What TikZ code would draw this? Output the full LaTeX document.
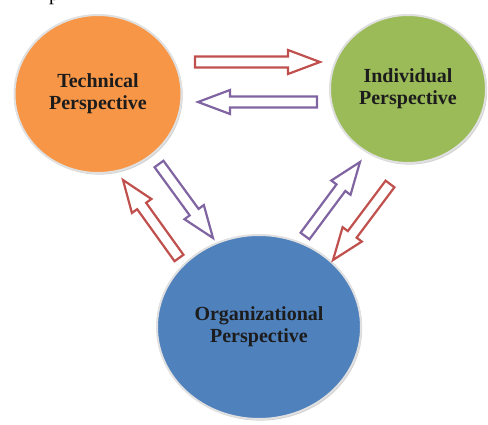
\documentclass[tikz,border=0pt]{standalone}
\usepackage{fontspec}
\setmainfont{Liberation Serif}
\usetikzlibrary{shapes.geometric, calc, shadows}

\definecolor{techorange}{HTML}{F79646}
\definecolor{indgreen}{HTML}{9BBB59}
\definecolor{orgblue}{HTML}{4F81BD}
\definecolor{flowred}{HTML}{C0504D}
\definecolor{flowpurple}{HTML}{8064A2}
\definecolor{labeltext}{HTML}{1C1C1C}

\tikzset{
  perspective/.style = {
    ellipse, draw = white!88!black, line width = 2pt, inner sep = 0pt,
    text = labeltext, align = center,
    font = \fontsize{20}{22}\selectfont\bfseries,
    drop shadow = {shadow xshift = 1.2pt, shadow yshift = -1.6pt,
      fill = black!40, opacity = 0.45}
  },
  blockarrow/.style = {line width = 2.2pt, fill = white, line join = miter}
}

\newcommand{\hollowarrow}[3]{%
  \coordinate (neck) at ($(#2)!32pt!(#1)$);
  \draw [blockarrow, draw = #3]
    ($(#1)!5.5pt!90:(#2)$) -- ($(neck)!5.5pt!90:(#2)$) -- ($(neck)!12pt!90:(#2)$)
    -- (#2) -- ($(neck)!12pt!-90:(#2)$) -- ($(neck)!5.5pt!-90:(#2)$)
    -- ($(#1)!5.5pt!-90:(#2)$) -- cycle;
}

\begin{document}
\begin{tikzpicture}[x = 1pt, y = -1pt]
  \useasboundingbox (0,0) rectangle (488,425);
  \begin{scope}
    \clip (0,0) rectangle (488,425);
    \node [anchor = base east, inner sep = 0pt, font = \fontsize{20}{22}\selectfont]
      (topr) at (3,1) {r};
    \node [anchor = base west, inner sep = 0pt, font = \fontsize{20}{22}\selectfont]
      (topp) at (49,1) {p};
  \end{scope}

  \node [perspective, fill = techorange, minimum width = 167pt, minimum height = 158pt]
    (tech) at (98,94) {Technical\\Perspective};
  \node [perspective, fill = indgreen, minimum width = 156pt, minimum height = 148pt]
    (indiv) at (408,89) {Individual\\Perspective};
  \node [perspective, fill = orgblue, minimum width = 204pt, minimum height = 184pt]
    (org) at (259,327) {Organizational\\Perspective};

  \coordinate (ti-tail) at (195,62);
  \coordinate (ti-tip) at (320,62);
  \coordinate (it-tail) at (317,102);
  \coordinate (it-tip) at (198,102);
  \coordinate (to-tail) at (159,164);
  \coordinate (to-tip) at (213,238);
  \coordinate (ot-tail) at (179,258);
  \coordinate (ot-tip) at (123,180);
  \coordinate (oi-tail) at (305,236);
  \coordinate (oi-tip) at (360,162);
  \coordinate (io-tail) at (390,184);
  \coordinate (io-tip) at (333,260);

  \hollowarrow{ti-tail}{ti-tip}{flowred}
  \hollowarrow{it-tail}{it-tip}{flowpurple}
  \hollowarrow{to-tail}{to-tip}{flowpurple}
  \hollowarrow{ot-tail}{ot-tip}{flowred}
  \hollowarrow{oi-tail}{oi-tip}{flowpurple}
  \hollowarrow{io-tail}{io-tip}{flowred}
\end{tikzpicture}
\end{document}
